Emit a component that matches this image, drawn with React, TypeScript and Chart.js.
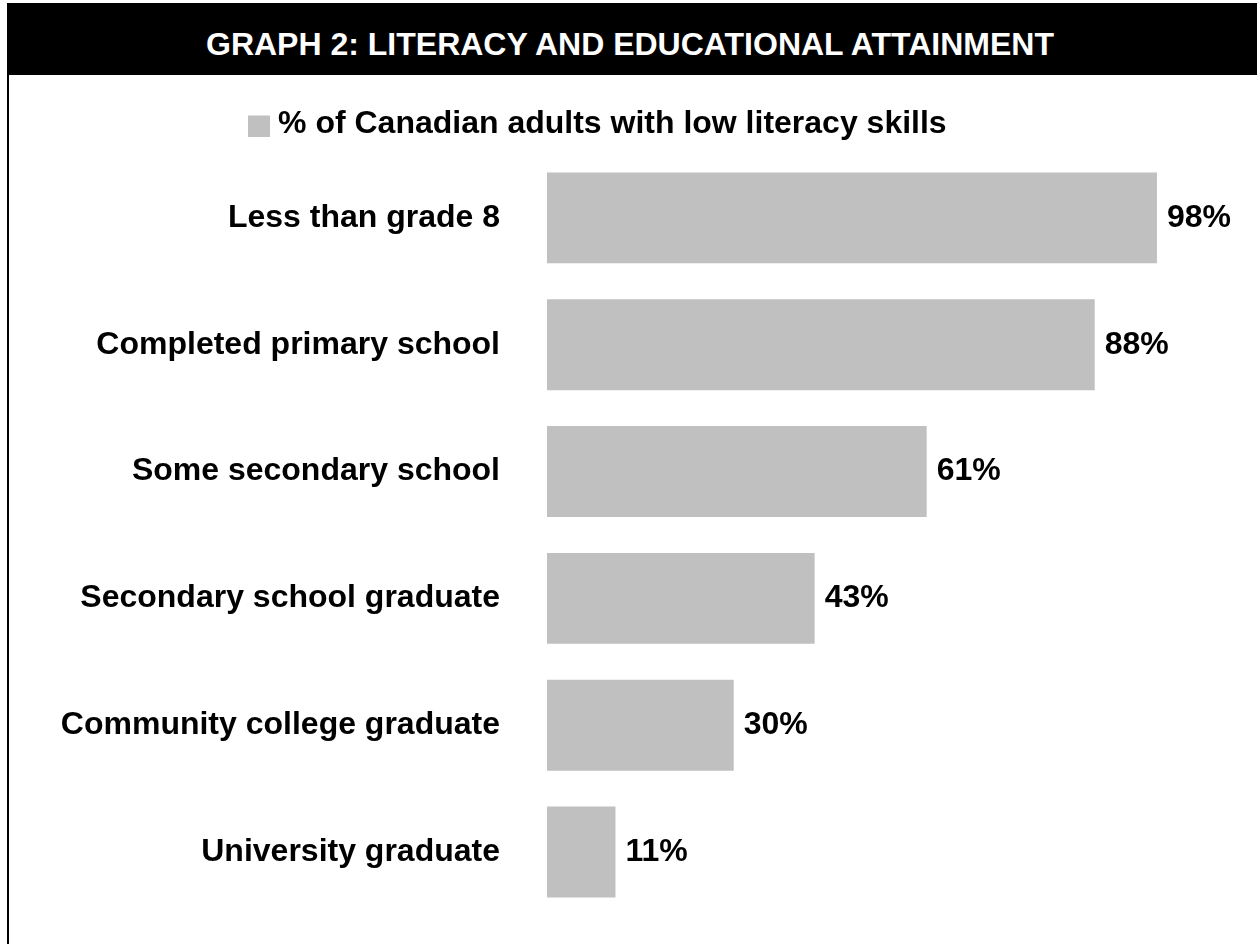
import React, { useEffect, useRef } from 'react';
import { Chart, registerables } from 'chart.js';

Chart.register(...registerables);

const TITLE = 'GRAPH 2: LITERACY AND EDUCATIONAL ATTAINMENT';
const SERIES_LABEL = '% of Canadian adults with low literacy skills';

const categories = [
  'Less than grade 8',
  'Completed primary school',
  'Some secondary school',
  'Secondary school graduate',
  'Community college graduate',
  'University graduate',
];

const values = [98, 88, 61, 43, 30, 11];

const X_MIN = 0;
const X_MAX = 100;

const FONT = '"Liberation Sans", Arial, Helvetica, sans-serif';
const BAR_COLOR = '#C0C0C0';

export default function App() {
  const ref = useRef<HTMLCanvasElement>(null);

  useEffect(() => {
    if (!ref.current) return;

    // legend swatch (grey square), drawn as a point-style image
    const swatch = document.createElement('canvas');
    swatch.width = 22;
    swatch.height = 25;
    const sctx = swatch.getContext('2d');
    if (sctx) {
      sctx.fillStyle = BAR_COLOR;
      sctx.fillRect(0, 4, 22, 21);
    }

    const valueLabels = {
      id: 'valueLabels',
      afterDatasetsDraw(chart: any) {
        const ctx = chart.ctx;
        const meta = chart.getDatasetMeta(0);
        ctx.save();
        ctx.font = `bold 32px ${FONT}`;
        ctx.fillStyle = '#000000';
        ctx.textAlign = 'left';
        ctx.textBaseline = 'middle';
        meta.data.forEach((bar: any, i: number) => {
          const v = chart.data.datasets[0].data[i];
          ctx.fillText(`${v}%`, bar.x + 10, bar.y);
        });
        ctx.restore();
      },
    };

    const chart = new Chart(ref.current, {
      type: 'bar',
      data: {
        labels: categories,
        datasets: [
          {
            label: SERIES_LABEL,
            data: values,
            backgroundColor: BAR_COLOR,
            borderWidth: 0,
            categoryPercentage: 1,
            barPercentage: 0.717,
          },
        ],
      },
      options: {
        indexAxis: 'y',
        responsive: false,
        animation: false,
        layout: { padding: { top: 29, left: 24.3, right: 87.6, bottom: 28.6 } },
        plugins: {
          legend: {
            display: true,
            position: 'top',
            align: 'center',
            labels: {
              usePointStyle: true,
              pointStyle: swatch as any,
              pointStyleWidth: 6,
              padding: 4,
              color: '#000000',
              font: { family: FONT, size: 32, weight: 'bold' },
            },
          },
          // empty spacer between legend and plot area
          subtitle: {
            display: true,
            text: '',
            position: 'top',
            weight: 500,
            padding: 0,
            font: { family: FONT, size: 4.5, lineHeight: 1 },
          },
          title: { display: false },
          tooltip: { enabled: false },
        },
        scales: {
          x: { display: false, min: X_MIN, max: X_MAX },
          y: {
            grid: { display: false, drawTicks: false },
            border: { display: false },
            ticks: {
              color: '#000000',
              padding: 47,
              autoSkip: false,
              font: { family: FONT, size: 32, weight: 'bold' },
            },
            afterFit: (s: any) => {
              s.width = 513.7;
              s.paddingTop = 0;
              s.paddingBottom = 0;
            },
          },
        },
      } as any,
      plugins: [valueLabels],
    });

    return () => chart.destroy();
  }, []);

  return (
    <div
      style={{
        position: 'absolute',
        left: 0,
        top: 0,
        width: 1257,
        height: 944,
        background: '#ffffff',
        overflow: 'hidden',
      }}
    >
      <div
        style={{
          position: 'absolute',
          left: 7,
          top: 3,
          width: 1250,
          height: 72,
          background: '#000000',
          color: '#ffffff',
          fontFamily: FONT,
          fontWeight: 'bold',
          fontSize: 32,
          lineHeight: '82px',
          textAlign: 'center',
          paddingRight: 4,
          boxSizing: 'border-box',
          overflow: 'hidden',
          whiteSpace: 'nowrap',
        }}
      >
        {TITLE}
      </div>
      <div
        style={{
          position: 'absolute',
          left: 7,
          top: 3,
          width: 2,
          height: 941,
          background: '#000000',
        }}
      />
      <canvas
        ref={ref}
        width={1248}
        height={869}
        style={{ position: 'absolute', left: 9, top: 75, width: 1248, height: 869 }}
      />
    </div>
  );
}
